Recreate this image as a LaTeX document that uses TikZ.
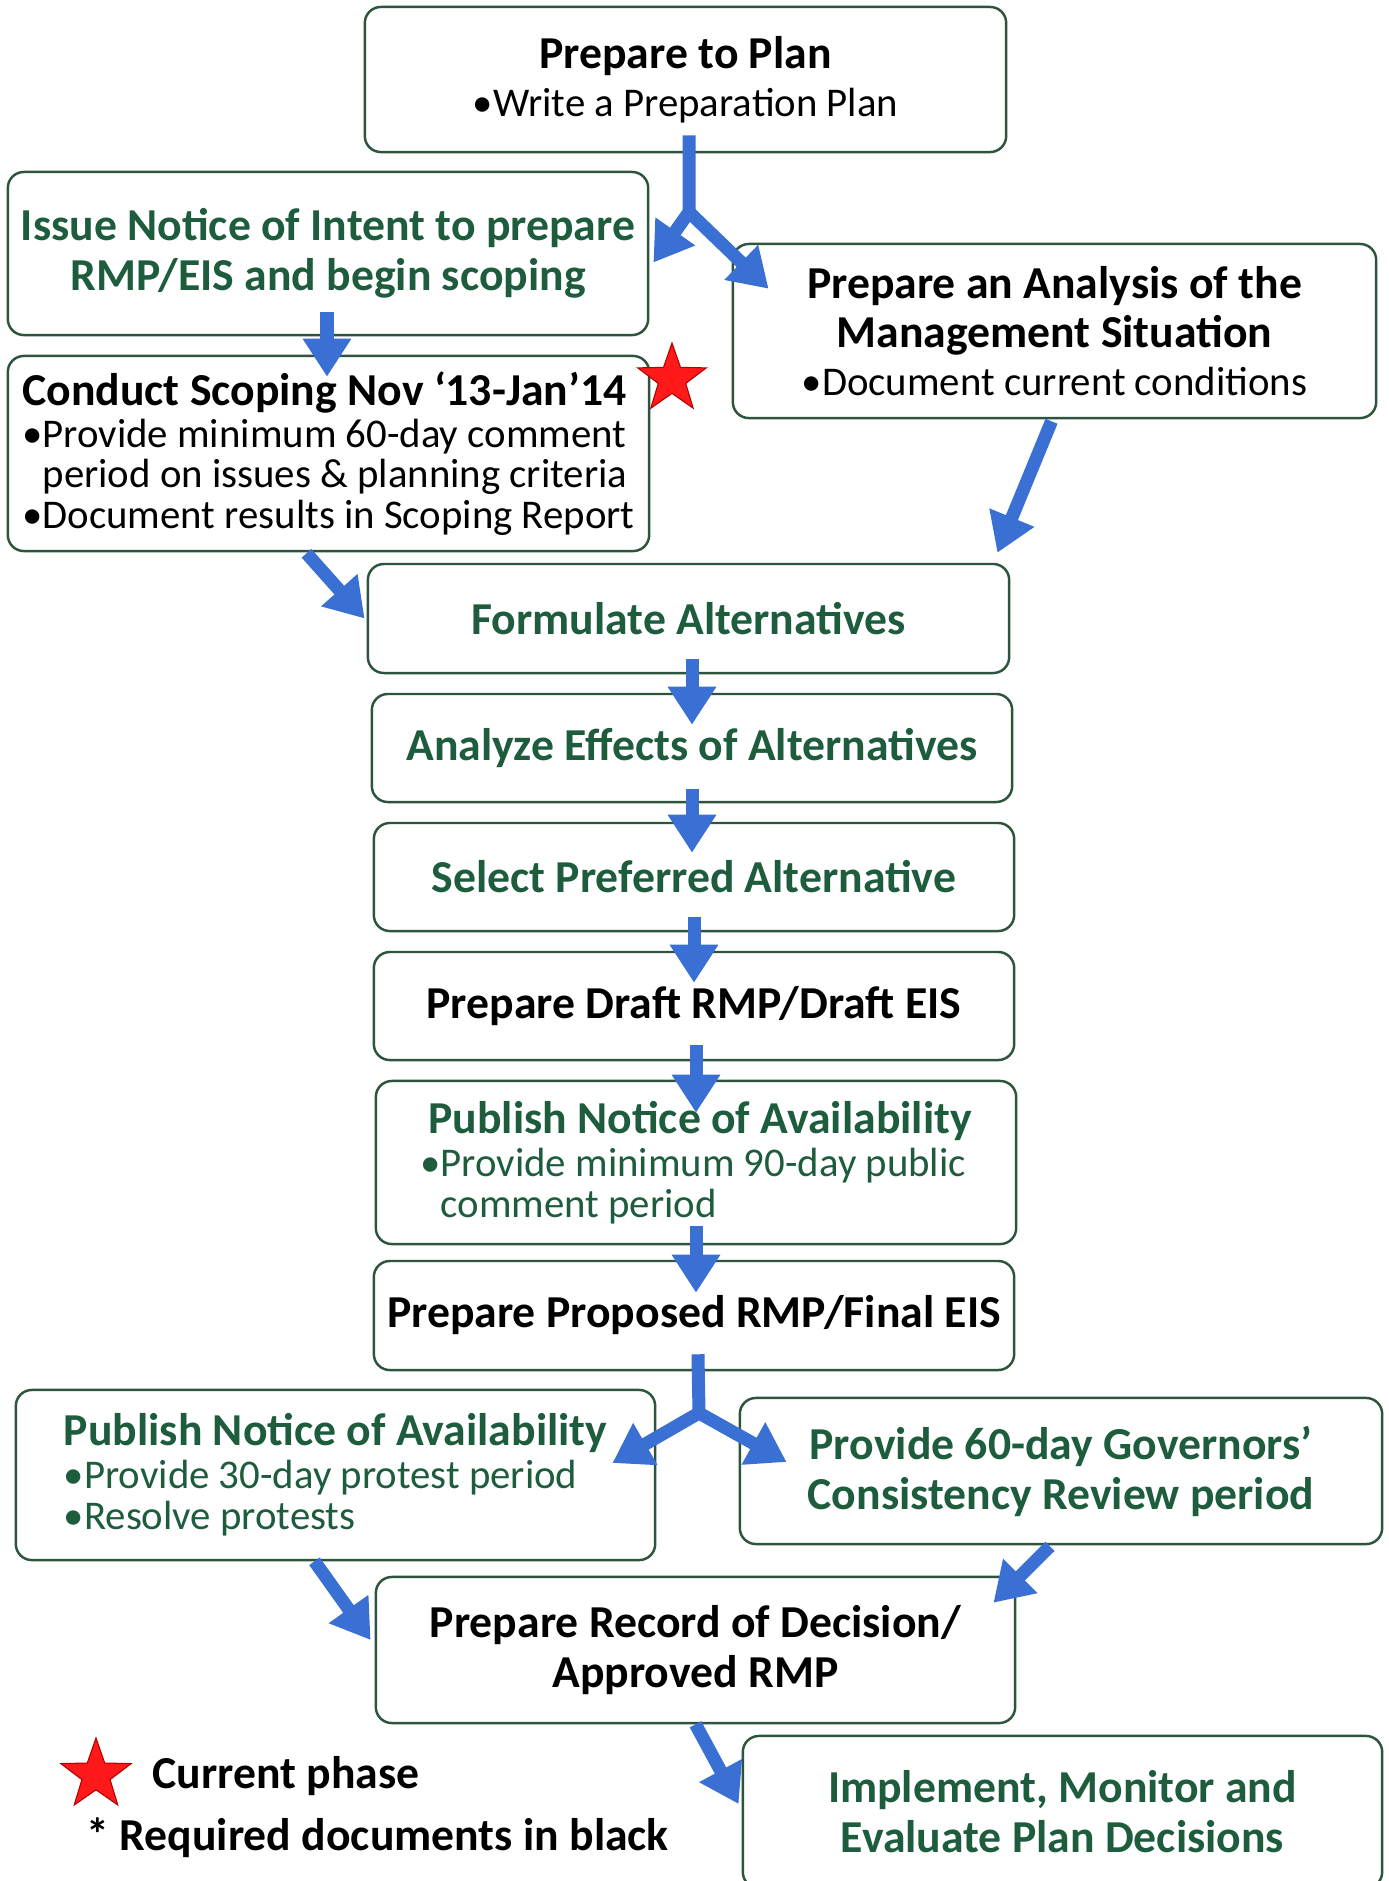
\documentclass[tikz,border=0pt]{standalone}
\usepackage{fontspec}
\setmainfont{Carlito}
\usetikzlibrary{shapes.geometric,arrows.meta,calc}
\definecolor{rmpgreen}{RGB}{30,92,62}
\definecolor{rmpblue}{RGB}{58,112,212}
\definecolor{rmpedge}{RGB}{45,85,62}
\newcommand\ttl{\fontsize{13}{14.2}\selectfont\bfseries}
\newcommand\blt{\fontsize{11.6}{11.6}\selectfont\mdseries}
\tikzset{x=0.01cm,y=-0.01cm,
	box/.style={draw=rmpedge,fill=white,line width=0.7pt,rounded corners=0.16cm,inner sep=0pt,align=center,font=\ttl},
	greentxt/.style={text=rmpgreen},
	flow/.style={draw=rmpblue,line width=0.13cm,-{Triangle[width=0.46cm,length=0.38cm]}},
	redstar/.style={star,star points=5,star point ratio=2.5,fill=red!90!white,draw=red!70!black,line width=0.3pt,inner sep=0pt}}

\begin{document}
\begin{tikzpicture}
	\useasboundingbox (0,0) rectangle (1389,1881);
	\clip (0,0) rectangle (1389,1881);
	\fill[white] (0,0) rectangle (1389,1881);
	
	\node[box,minimum width=6.41cm,minimum height=1.45cm] (prep) at (685.5,79.5) {Prepare to Plan\\[-0.6pt]\blt •Write a Preparation Plan};
	\node[box,greentxt,minimum width=6.40cm,minimum height=1.63cm] (notice) at (328,253.5) {Issue Notice of Intent to prepare\\RMP/EIS and begin scoping};
	\node[box,minimum width=6.43cm,minimum height=1.74cm] (ams) at (1054.5,331) {Prepare an Analysis of the\\Management Situation\\[-0.6pt]\blt •Document current conditions};
	\node[box,align=left,minimum width=6.41cm,minimum height=1.95cm] (scoping) at (328.5,453.5) {Conduct Scoping Nov ‘13-Jan’14\\[-2.3pt]\blt •Provide minimum 60-day comment\\[-2.6pt]\blt\phantom{•}period on issues \& planning criteria\\[-2.6pt]\blt •Document results in Scoping Report};
	\node[box,greentxt,minimum width=6.41cm,minimum height=1.09cm] (alts) at (688.5,618.5) {Formulate Alternatives};
	\node[box,greentxt,minimum width=6.40cm,minimum height=1.08cm] (effects) at (692,748) {Analyze Effects of Alternatives};
	\node[box,greentxt,minimum width=6.40cm,minimum height=1.08cm] (select) at (694,877) {Select Preferred Alternative};
	\node[box,minimum width=6.40cm,minimum height=1.08cm] (draft) at (694,1006) {Prepare Draft RMP/Draft EIS};
	\node[box,greentxt,align=left,minimum width=6.40cm,minimum height=1.63cm] (noa1) at (696,1162.5) {\hspace*{0.08cm}Publish Notice of Availability\\[-2pt]\blt •Provide minimum 90-day public\\[-2.6pt]\blt\phantom{•}comment period};
	\node[box,minimum width=6.40cm,minimum height=1.09cm] (final) at (694,1315.5) {Prepare Proposed RMP/Final EIS};
	\node[box,greentxt,align=left,minimum width=6.39cm,minimum height=1.70cm] (noa2) at (335.5,1475) {Publish Notice of Availability\\[-2pt]\blt •Provide 30-day protest period\\[-2.6pt]\blt •Resolve protests};
	\node[box,greentxt,minimum width=6.42cm,minimum height=1.46cm] (gov) at (1061,1471) {Provide 60-day Governors’\\Consistency Review period};
	\node[box,minimum width=6.39cm,minimum height=1.46cm] (rod) at (695.5,1650) {Prepare Record of Decision/\\Approved RMP};
	\node[box,greentxt,minimum width=6.39cm,minimum height=1.52cm] (impl) at (1062.5,1812) {Implement, Monitor and\\Evaluate Plan Decisions};
	
	\node[redstar,minimum size=0.72cm] (nowstar) at (672,379) {};
	\node[redstar,minimum size=0.74cm] (keystar) at (96,1775) {};
	\node[anchor=west,font=\ttl,inner sep=0pt] (keytext) at (152,1776) {Current phase};
	\node[anchor=west,font=\ttl,inner sep=0pt] (keynote) at (86,1838) {* Required documents in black};
	
	\coordinate (fork1) at (689,212);
	\coordinate (fork2) at (699,1413);
	\draw[flow] ($(prep.south)+(3.5,-18)$) -- (fork1) -- ($(notice.east)+(4,9)$);
	\draw[flow,line cap=round] (fork1) -- ($(ams.north west)+(37,46)$);
	\draw[flow] ($(notice.south)+(-1,-24)$) -- ($(scoping.north)+(-1.5,22)$);
	\draw[flow] ($(ams.south)+(-3,2)$) -- ($(alts.north east)+(-13,-10)$);
	\draw[flow] ($(scoping.south)+(-22,1)$) -- ($(alts.west)+(-2,0)$);
	\draw[flow] ($(alts.south)+(3.5,-15)$) -- ($(effects.north)+(0,32)$);
	\draw[flow] ($(effects.south)+(0,-14)$) -- ($(select.north)+(-2,31)$);
	\draw[flow] ($(select.south)+(0,-15)$) -- ($(draft.north)+(0,32)$);
	\draw[flow] ($(draft.south)+(2,-16)$) -- ($(noa1.north)+(0,33)$);
	\draw[flow] ($(noa1.south)+(0,-19)$) -- ($(final.north)+(2,33)$);
	\draw[flow] ($(final.south)+(4,-17)$) -- (fork2) -- ($(noa2.east)+(-44,-12)$);
	\draw[flow,line cap=round] (fork2) -- ($(gov.west)+(48,-9)$);
	\draw[flow] ($(noa2.south)+(-21,0)$) -- ($(rod.west)+(-4,-10)$);
	\draw[flow] ($(gov.south)+(-11,1)$) -- ($(rod.north east)+(-23,27)$);
	\draw[flow] (rod.south) -- ($(impl.west)+(-3,-8)$);
\end{tikzpicture}
\end{document}
